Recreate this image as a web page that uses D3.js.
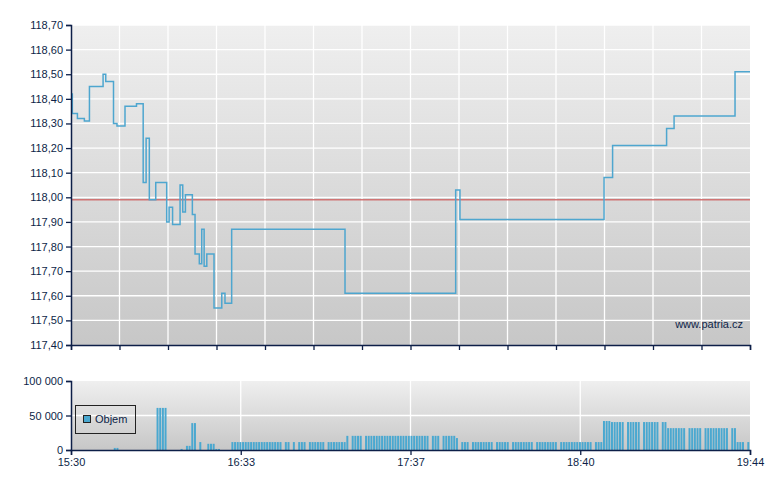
<!DOCTYPE html>
<html>
<head>
<meta charset="utf-8">
<script src="https://cdn.jsdelivr.net/npm/d3@7"></script>
<style>
  html, body { margin: 0; padding: 0; background: #ffffff; }
  svg { display: block; }
  text { font-family: "Liberation Sans", Arial, sans-serif; font-size: 11px; fill: #0d1f48; }
</style>
</head>
<body>
<svg id="chart" width="780" height="490"></svg>
<script>
// ---- data (minutes after 15:30) ----
const priceTimes = [0,0.5,2.4,5.0,6.9,12.0,13.0,15.9,17.2,20.2,24.5,27.0,28.1,29.3,31.7,35.8,36.7,38.0,40.8,41.8,42.8,45.4,46.4,48.0,48.9,49.8,50.8,53.5,56.4,57.6,60.1,102.5,143.9,145.5,199.4,202.6,222.8,225.6,248.4,254];
const priceValues = [118.42,118.34,118.32,118.31,118.45,118.50,118.47,118.30,118.29,118.37,118.38,118.06,118.24,117.99,118.06,117.90,117.96,117.89,118.05,117.94,118.01,117.93,117.77,117.73,117.87,117.72,117.77,117.55,117.61,117.57,117.87,117.61,118.03,117.91,118.08,118.21,118.28,118.33,118.51,118.51];
const referencePrice = 117.99;
const priceTicks = [117.40,117.50,117.60,117.70,117.80,117.90,118.00,118.10,118.20,118.30,118.40,118.50,118.60,118.70];
const priceTickLabels = ["117,40","117,50","117,60","117,70","117,80","117,90","118,00","118,10","118,20","118,30","118,40","118,50","118,60","118,70"];

// volume per minute slot (index = minutes after 15:30)
const volumeValues = [
  0,0,0,0,0,0,0,0,0,0,
  0,0,0,0,0,0,3000,3000,0,0,
  0,0,0,0,0,0,0,0,0,0,
  0,0,61000,61000,61000,61000,0,0,0,0,
  0,1500,0,6000,6000,39000,39000,0,11500,0,
  0,9000,9000,9000,1500,1500,0,0,0,0,
  11500,11500,11500,11500,11500,11500,11500,11500,11500,11500,
  11500,11500,11500,11500,11500,11500,11500,11500,11500,0,
  11500,11500,0,11500,0,11500,11500,11500,0,11500,
  11500,11500,11500,11500,11500,0,11500,11500,11500,11500,
  11500,11500,11500,20500,0,20500,20500,20500,20500,0,
  20500,20500,20500,20500,20500,20500,20500,20500,20500,20500,
  20500,20500,20500,20500,20500,20500,20500,20500,20500,20500,
  20500,20500,20500,20500,0,20500,20500,20500,0,20500,
  20500,20500,20500,20500,17300,0,11500,11500,11500,0,
  11500,11500,11500,11500,11500,11500,11500,11500,0,11500,
  11500,11500,11500,11500,0,11500,11500,11500,11500,11500,
  11500,11500,11500,0,11500,11500,11500,11500,11500,11500,
  11500,11500,0,11500,11500,11500,11500,11500,11500,11500,
  11500,11500,11500,11500,11500,0,11500,11500,11500,42000,
  42000,42000,40500,40500,40500,40500,40500,0,40500,40500,
  40500,40500,40500,0,40500,40500,40500,40500,40500,40500,
  0,40500,40500,31700,31700,31700,31700,31700,31700,31700,
  0,31700,31700,31700,31700,31700,0,31700,31700,31700,
  31700,31700,31700,31700,31700,31700,0,31700,31700,11500,
  11500,11500,0,11500
];
const volumeTicks = [0, 50000, 100000];
const volumeTickLabels = ["0", "50 000", "100 000"];
const timeTicks = [0, 63.5, 127, 190.5, 254];
const timeTickLabels = ["15:30", "16:33", "17:37", "18:40", "19:44"];
const priceGridCount = 14;
const legendLabel = "Objem";
const watermark = "www.patria.cz";

// ---- layout ----
const svg = d3.select("#chart");
const left = 71, right = 750;
const pTop = 25, pBottom = 345;
const vTop = 381, vBottom = 450;
const axisColor = "#0d1f48";
const barColor = "#4aa8d0";

const x = d3.scaleLinear().domain([0, 254]).range([left, right]);
const yP = d3.scaleLinear().domain([117.40, 118.70]).range([pBottom, pTop]);
const yV = d3.scaleLinear().domain([0, 100000]).range([vBottom, vTop]);

const defs = svg.append("defs");
const grad = defs.append("linearGradient").attr("id", "bg").attr("x1", 0).attr("y1", 0).attr("x2", 0).attr("y2", 1);
grad.append("stop").attr("offset", "0%").attr("stop-color", "#efefef");
grad.append("stop").attr("offset", "100%").attr("stop-color", "#c7c7c7");
defs.append("clipPath").attr("id", "pclip").append("rect")
  .attr("x", left).attr("y", pTop).attr("width", right - left).attr("height", pBottom - pTop);

// ---- price panel ----
svg.append("rect").attr("x", left).attr("y", pTop).attr("width", right - left).attr("height", pBottom - pTop).attr("fill", "url(#bg)");

const pxTicks = d3.range(priceGridCount + 1).map(i => i * 254 / priceGridCount);
svg.append("g").selectAll("line").data(priceTicks.slice(1)).join("line")
  .attr("x1", left).attr("x2", right).attr("y1", d => yP(d)).attr("y2", d => yP(d))
  .attr("stroke", "#ffffff").attr("stroke-width", 1.3);
svg.append("g").selectAll("line").data(pxTicks.slice(1, -1)).join("line")
  .attr("x1", d => x(d)).attr("x2", d => x(d)).attr("y1", pTop).attr("y2", pBottom)
  .attr("stroke", "#ffffff").attr("stroke-width", 1.3);

svg.append("line").attr("x1", left).attr("x2", right)
  .attr("y1", yP(referencePrice)).attr("y2", yP(referencePrice))
  .attr("stroke", "#d06a6a").attr("stroke-width", 1.5).attr("opacity", 0.9);

const priceData = priceTimes.map((t, i) => [t, priceValues[i]]);
const line = d3.line().x(d => x(d[0])).y(d => yP(d[1])).curve(d3.curveStepAfter);
svg.append("path").datum(priceData).attr("d", line)
  .attr("clip-path", "url(#pclip)")
  .attr("fill", "none").attr("stroke", "#4ea6cf").attr("stroke-width", 1.5);

svg.append("text").attr("x", 743).attr("y", 328).attr("text-anchor", "end").text(watermark);

const yAxisP = d3.axisLeft(yP).tickValues(priceTicks).tickFormat((d, i) => priceTickLabels[i]).tickSize(5).tickPadding(3);
const gyP = svg.append("g").attr("transform", `translate(${left},0)`).call(yAxisP);
const xAxisP = d3.axisBottom(x).tickValues(pxTicks).tickFormat("").tickSize(5);
const gxP = svg.append("g").attr("transform", `translate(0,${pBottom})`).call(xAxisP);

// ---- volume panel ----
svg.append("rect").attr("x", left).attr("y", vTop).attr("width", right - left).attr("height", vBottom - vTop).attr("fill", "url(#bg)");
svg.append("line").attr("x1", left).attr("x2", right).attr("y1", yV(50000)).attr("y2", yV(50000))
  .attr("stroke", "#ffffff").attr("stroke-width", 1.3);
svg.append("g").selectAll("line").data(timeTicks.slice(1, -1)).join("line")
  .attr("x1", d => x(d)).attr("x2", d => x(d)).attr("y1", vTop).attr("y2", vBottom)
  .attr("stroke", "#ffffff").attr("stroke-width", 1.3);

const slotW = x(1) - x(0);
svg.append("g").selectAll("rect").data(volumeValues.map((v, i) => ({ i, v })).filter(d => d.v > 0)).join("rect")
  .attr("x", d => x(d.i))
  .attr("width", Math.max(1, slotW - 0.7))
  .attr("y", d => yV(d.v))
  .attr("height", d => vBottom - yV(d.v))
  .attr("fill", barColor);

// legend
const lg = svg.append("g");
lg.append("rect").attr("x", 75.5).attr("y", 405.5).attr("width", 60).attr("height", 28)
  .attr("fill", "none").attr("stroke", "#222222").attr("stroke-width", 1);
lg.append("rect").attr("x", 83.5).attr("y", 415.5).attr("width", 7).attr("height", 7)
  .attr("fill", barColor).attr("stroke", "#222222").attr("stroke-width", 1);
lg.append("text").attr("x", 95).attr("y", 423).text(legendLabel);

const yAxisV = d3.axisLeft(yV).tickValues(volumeTicks).tickFormat((d, i) => volumeTickLabels[i]).tickSize(5).tickPadding(3);
svg.append("g").attr("transform", `translate(${left},0)`).call(yAxisV);
const xAxisV = d3.axisBottom(x).tickValues(timeTicks).tickFormat((d, i) => timeTickLabels[i]).tickSize(5).tickPadding(3);
svg.append("g").attr("transform", `translate(0,${vBottom})`).call(xAxisV);

// axis styling
svg.selectAll(".domain").attr("stroke", axisColor).attr("stroke-width", 1.5);
svg.selectAll(".tick line").attr("stroke", axisColor).attr("stroke-width", 1.3);
svg.selectAll(".tick text").attr("fill", axisColor)
  .style("font-family", "'Liberation Sans', Arial, sans-serif").style("font-size", "11px");
</script>
</body>
</html>
